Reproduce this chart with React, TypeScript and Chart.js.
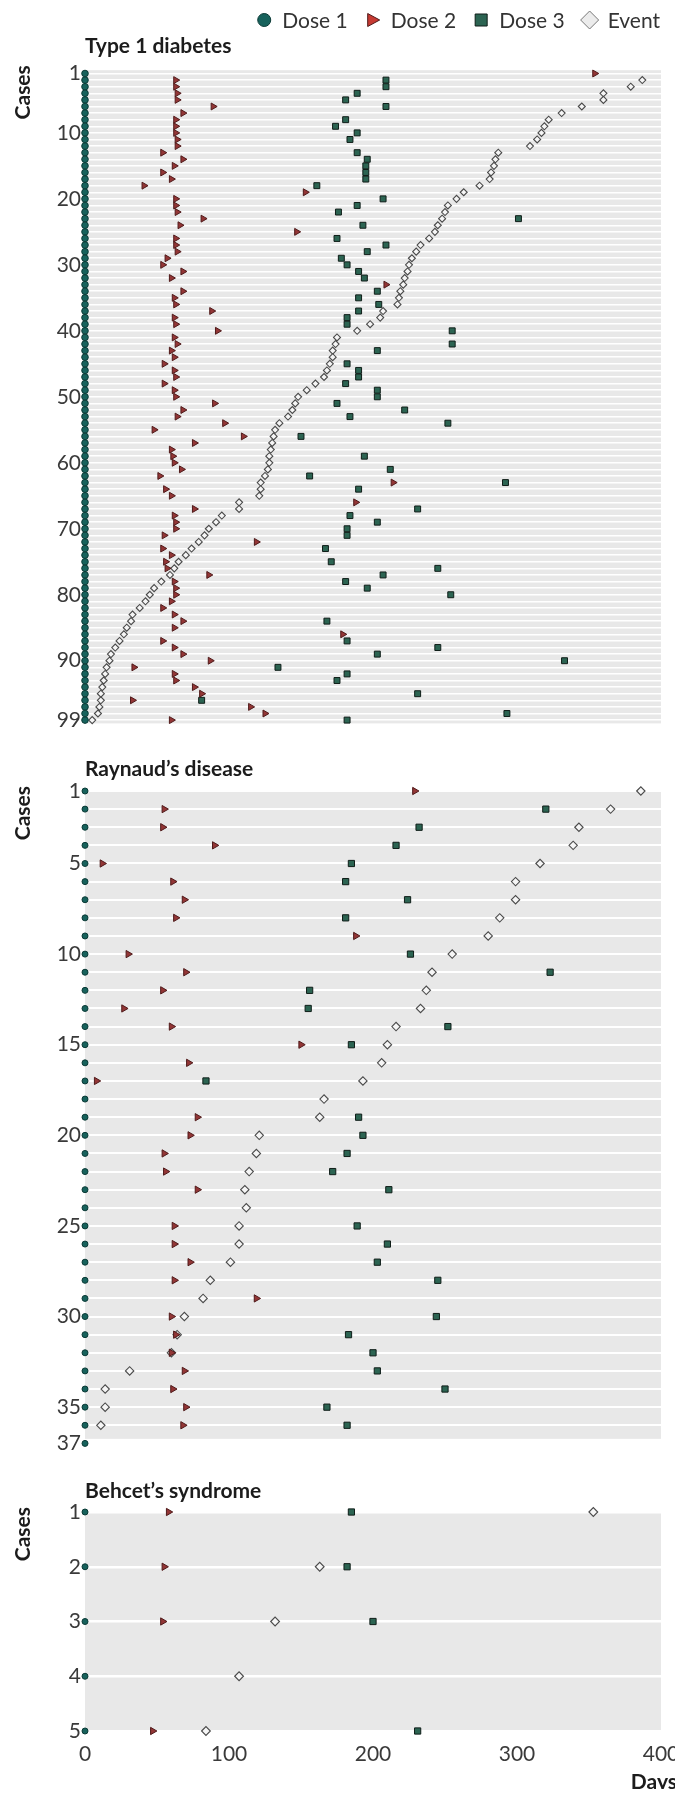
import React, { useEffect, useRef } from 'react';
import { Chart, registerables } from 'chart.js';

Chart.register(...registerables);

const FONT = 'Lato, "Open Sans", "DejaVu Sans", sans-serif';

// ---------------- DATA ----------------
const SERIES_NAMES = ['Dose 1', 'Dose 2', 'Dose 3', 'Event'];
const X_TICKS = [0, 100, 200, 300, 400];
const X_TITLE = 'Days';
const Y_TITLE = 'Cases';

// Type 1 diabetes (99 cases) – days from first dose
const T1D_TITLE = 'Type 1 diabetes';
const T1D_TICKS = [1, 10, 20, 30, 40, 50, 60, 70, 80, 90, 99];
const T1D_DOSE1 = [
  0, 0, 0, 0, 0, 0, 0, 0, 0, 0, 0, 0, 0, 0, 0, 0, 0, 0, 0, 0,
  0, 0, 0, 0, 0, 0, 0, 0, 0, 0, 0, 0, 0, 0, 0, 0, 0, 0, 0, 0,
  0, 0, 0, 0, 0, 0, 0, 0, 0, 0, 0, 0, 0, 0, 0, 0, 0, 0, 0, 0,
  0, 0, 0, 0, 0, 0, 0, 0, 0, 0, 0, 0, 0, 0, 0, 0, 0, 0, 0, 0,
  0, 0, 0, 0, 0, 0, 0, 0, 0, 0, 0, 0, 0, 0, 0, 0, 0, 0, 0,
];
const T1D_DOSE2 = [
  354, 63, 63, 64, 64, 89, 68, 63, 63, 63,
  64, 64, 54, 68, 62, 54, 60, 41, 153, 63,
  63, 64, 82, 66, 147, 63, 63, 64, 57, 54,
  68, 60, 209, 68, 62, 63, 88, 62, 63, 92,
  62, 64, 60, 62, 55, 62, 63, 55, 62, 63,
  90, 68, 64, 97, 48, 110, 76, 60, 61, 62,
  67, 52, 214, 56, 60, 188, 76, 62, 63, 63,
  55, 119, 54, 60, 56, 57, 86, 62, 63, 63,
  60, 54, 62, 68, 62, 179, 54, 62, 68, 87,
  34, 62, 63, 76, 81, 33, 115, 125, 60,
];
const T1D_DOSE3 = [
  null, 209, 209, 189, 181, 209, null, 181, 174, 189,
  184, null, 189, 196, 195, 195, 195, 161, null, 207,
  189, 176, 301, 193, null, 175, 209, 196, 178, 182,
  190, 194, null, 203, 190, 204, 190, 182, 182, 255,
  null, 255, 203, null, 182, 190, 190, 181, 203, 203,
  175, 222, 184, 252, null, 150, null, null, 194, null,
  212, 156, 292, 190, null, null, 231, 184, 203, 182,
  182, null, 167, null, 171, 245, 207, 181, 196, 254,
  null, null, null, 168, null, null, 182, 245, 203, 333,
  134, 182, 175, null, 231, 81, null, 293, 182,
];
const T1D_EVENT = [
  null, 387, 379, 360, 360, 345, 331, 322, 319, 317,
  314, 309, 287, 285, 284, 282, 281, 274, 263, 258,
  252, 250, 248, 245, 243, 239, 233, 230, 227, 225,
  224, 222, 221, 219, 218, 217, 207, 205, 198, 189,
  175, 174, 172, 172, 170, 168, 166, 160, 154, 148,
  146, 144, 141, 135, 132, 131, 130, 129, 128, 128,
  127, 125, 122, 122, 121, 107, 107, 95, 91, 86,
  83, 79, 74, 70, 65, 62, 59, 53, 48, 45,
  42, 38, 33, 32, 29, 27, 24, 21, 18, 17,
  15, 14, 13, 12, 11, 11, 10, 9, 5,
];

// Raynaud's disease (37 cases)
const RAY_TITLE = "Raynaud’s disease";
const RAY_TICKS = [1, 5, 10, 15, 20, 25, 30, 35, 37];
const RAY_DOSE1 = [
  0, 0, 0, 0, 0, 0, 0, 0, 0, 0, 0, 0, 0, 0, 0, 0, 0, 0, 0, 0,
  0, 0, 0, 0, 0, 0, 0, 0, 0, 0, 0, 0, 0, 0, 0, 0, 0,
];
const RAY_DOSE2 = [
  229, 55, 54, 90, 12, 61, 69, 63, 188, 30,
  70, 54, 27, 60, 150, 72, 8, null, 78, 73,
  55, 56, 78, null, 62, 62, 73, 62, 119, 60,
  63, 60, 69, 61, 70, 68, null,
];
const RAY_DOSE3 = [
  null, 320, 232, 216, 185, 181, 224, 181, null, 226,
  323, 156, 155, 252, 185, null, 84, null, 190, 193,
  182, 172, 211, null, 189, 210, 203, 245, null, 244,
  183, 200, 203, 250, 168, 182, null,
];
const RAY_EVENT = [
  386, 365, 343, 339, 316, 299, 299, 288, 280, 255,
  241, 237, 233, 216, 210, 206, 193, 166, 163, 121,
  119, 114, 111, 112, 107, 107, 101, 87, 82, 69,
  64, 60, 31, 14, 14, 11, null,
];

// Behcet's syndrome (5 cases)
const BEH_TITLE = "Behcet’s syndrome";
const BEH_TICKS = [1, 2, 3, 4, 5];
const BEH_DOSE1 = [0, 0, 0, 0, 0];
const BEH_DOSE2 = [58, 55, 54, null, 47];
const BEH_DOSE3 = [185, 182, 200, null, 231];
const BEH_EVENT = [353, 163, 132, 107, 84];

// ---------------- STYLES ----------------
type MarkStyle = { pointStyle: string; bg: string; border: string; rot: number };
const MARKS: MarkStyle[] = [
  { pointStyle: 'circle', bg: '#17625c', border: '#0b3a36', rot: 0 },
  { pointStyle: 'triangle', bg: '#933636', border: '#4f1a1a', rot: 90 },
  { pointStyle: 'rect', bg: '#2c6452', border: '#0f1d18', rot: 0 },
  { pointStyle: 'rectRot', bg: '#f6f6f6', border: '#4a4a4a', rot: 0 },
];

const PANEL_BG = '#e8e8e8';
const TICK_COLOR = '#3a3a3a';
const LABEL_COLOR = '#1c1c1c';
const CHART_LEFT = 85;
const CHART_RIGHT_PAD = 22;

type Panel = {
  id: string;
  top: number;
  height: number;
  title: string;
  padTop: number;
  padBottom: number;
  titlePadBottom: number;
  yMin: number;
  yMax: number;
  ticks: number[];
  bgFrom: number;
  bgTo: number;
  gridWidth: number;
  radii: number[];
  series: (number | null)[][];
  showX: boolean;
  legend: boolean;
};

const PANELS: Panel[] = [
  {
    id: 't1d', top: 0, height: 740, title: T1D_TITLE, padTop: 34, padBottom: 14, titlePadBottom: 11,
    yMin: 0.5, yMax: 99.5, ticks: T1D_TICKS, bgFrom: 0.5, bgTo: 99.5, gridWidth: 1.5,
    radii: [3.3, 4, 4.2, 3.5], series: [T1D_DOSE1, T1D_DOSE2, T1D_DOSE3, T1D_EVENT], showX: false, legend: true,
  },
  {
    id: 'ray', top: 745, height: 715, title: RAY_TITLE, padTop: 12, padBottom: 15, titlePadBottom: 8.8,
    yMin: 1, yMax: 37, ticks: RAY_TICKS, bgFrom: 1, bgTo: 36.75, gridWidth: 2,
    radii: [3, 4.2, 4.4, 4.2], series: [RAY_DOSE1, RAY_DOSE2, RAY_DOSE3, RAY_EVENT], showX: false, legend: false,
  },
  {
    id: 'beh', top: 1460, height: 337, title: BEH_TITLE, padTop: 19, padBottom: 0, titlePadBottom: 7.8,
    yMin: 1, yMax: 5, ticks: BEH_TICKS, bgFrom: 1, bgTo: 5, gridWidth: 2.5,
    radii: [3, 4.2, 4.4, 4.4], series: [BEH_DOSE1, BEH_DOSE2, BEH_DOSE3, BEH_EVENT], showX: true, legend: false,
  },
];

function toPoints(values: (number | null)[]) {
  const out: { x: number; y: number }[] = [];
  values.forEach((v, i) => {
    if (v !== null && v !== undefined) out.push({ x: v, y: i + 1 });
  });
  return out;
}

function drawLegendMarker(ctx: CanvasRenderingContext2D, idx: number, x: number, y: number) {
  const m = MARKS[idx];
  ctx.save();
  ctx.fillStyle = m.bg;
  ctx.strokeStyle = m.border;
  ctx.lineWidth = 1;
  ctx.beginPath();
  if (idx === 0) {
    ctx.arc(x, y, 6.5, 0, Math.PI * 2);
  } else if (idx === 1) {
    ctx.moveTo(x - 5, y - 6.5);
    ctx.lineTo(x + 7, y);
    ctx.lineTo(x - 5, y + 6.5);
    ctx.closePath();
    ctx.fillStyle = '#c63a32';
  } else if (idx === 2) {
    ctx.rect(x - 6, y - 6, 12, 12);
  } else {
    ctx.moveTo(x, y - 9);
    ctx.lineTo(x + 9, y);
    ctx.lineTo(x, y + 9);
    ctx.lineTo(x - 9, y);
    ctx.closePath();
    ctx.fillStyle = '#ececec';
    ctx.strokeStyle = '#777';
  }
  ctx.fill();
  ctx.stroke();
  ctx.restore();
}

function makeDecorPlugin(cfg: Panel) {
  return {
    id: 'panelDecor_' + cfg.id,
    beforeDraw(chart: any) {
      const { ctx, chartArea } = chart;
      const ys = chart.scales.y;
      const y1 = ys.getPixelForValue(cfg.bgFrom);
      const y2 = ys.getPixelForValue(cfg.bgTo);
      ctx.save();
      ctx.fillStyle = PANEL_BG;
      ctx.fillRect(chartArea.left, Math.min(y1, y2), chartArea.right - chartArea.left, Math.abs(y2 - y1));
      ctx.restore();
    },
    afterDraw(chart: any) {
      const { ctx, chartArea } = chart;
      ctx.save();
      // y-axis title, rotated, near the top of the panel
      ctx.font = `bold 21px ${FONT}`;
      ctx.fillStyle = LABEL_COLOR;
      ctx.translate(23, chartArea.top - 5);
      ctx.rotate(-Math.PI / 2);
      ctx.textAlign = 'right';
      ctx.textBaseline = 'middle';
      ctx.fillText(Y_TITLE, 0, 0);
      ctx.restore();

      if (cfg.showX) {
        ctx.save();
        ctx.font = `bold 21px ${FONT}`;
        ctx.fillStyle = LABEL_COLOR;
        ctx.textAlign = 'right';
        ctx.textBaseline = 'middle';
        ctx.fillText(X_TITLE, 677, chartArea.bottom + 51);
        ctx.restore();
      }

      if (cfg.legend) {
        const names = chart.data.datasets.map((d: any) => d.label);
        ctx.save();
        ctx.font = `normal 21px ${FONT}`;
        const widths = names.map((n: string) => ctx.measureText(n).width);
        const gapText = 18;
        const gapNext = 25;
        const total = 6.5 + widths.reduce((a: number, b: number) => a + b, 0) + names.length * gapText + (names.length - 1) * gapNext;
        let x = 660 - total + 6.5;
        const y = 20;
        names.forEach((n: string, i: number) => {
          drawLegendMarker(ctx, i, x, y);
          ctx.fillStyle = '#333';
          ctx.textAlign = 'left';
          ctx.textBaseline = 'middle';
          ctx.fillText(n, x + gapText, y + 1);
          x += gapText + widths[i] + gapNext;
        });
        ctx.restore();
      }
    },
  };
}

function buildConfig(cfg: Panel): any {
  const n = cfg.series[0].length;
  const caseNums: number[] = [];
  for (let i = 1; i <= n; i++) caseNums.push(i);

  const datasets = SERIES_NAMES.map((name, i) => ({
    type: 'scatter',
    label: name,
    data: toPoints(cfg.series[i]),
    pointStyle: MARKS[i].pointStyle,
    pointRadius: cfg.radii[i],
    pointHoverRadius: cfg.radii[i],
    pointBackgroundColor: MARKS[i].bg,
    pointBorderColor: MARKS[i].border,
    pointBorderWidth: i === 3 ? 1.1 : 1,
    pointRotation: MARKS[i].rot,
    showLine: false,
    clip: false,
  }));

  return {
    type: 'scatter',
    data: { datasets },
    plugins: [makeDecorPlugin(cfg)],
    options: {
      animation: false,
      responsive: false,
      devicePixelRatio: 1,
      events: [],
      layout: { padding: { top: cfg.padTop, right: CHART_RIGHT_PAD, bottom: cfg.padBottom, left: 0 } },
      plugins: {
        legend: { display: false },
        tooltip: { enabled: false },
        title: {
          display: true,
          text: cfg.title,
          align: 'start',
          fullSize: false,
          color: LABEL_COLOR,
          font: { family: FONT, size: 21, weight: 'bold', lineHeight: 1.2 },
          padding: { top: 0, bottom: cfg.titlePadBottom },
        },
      },
      scales: {
        x: {
          type: 'linear',
          min: 0,
          max: 400,
          display: cfg.showX,
          afterBuildTicks: (s: any) => { s.ticks = X_TICKS.map((v) => ({ value: v })); },
          afterFit: (s: any) => { if (cfg.showX) s.height = 66; },
          ticks: { padding: 3, color: TICK_COLOR, maxRotation: 0, font: { family: FONT, size: 21 } },
          grid: { display: false },
          border: { display: false },
        },
        y: {
          type: 'linear',
          reverse: true,
          min: cfg.yMin,
          max: cfg.yMax,
          afterBuildTicks: (s: any) => { s.ticks = caseNums.map((v) => ({ value: v })); },
          afterFit: (s: any) => { s.width = CHART_LEFT; },
          ticks: {
            autoSkip: false,
            padding: 4,
            color: TICK_COLOR,
            font: { family: FONT, size: 21 },
            callback: (v: any) => (cfg.ticks.includes(v) ? String(v) : ''),
          },
          grid: { color: '#ffffff', lineWidth: cfg.gridWidth, drawTicks: false },
          border: { display: false },
        },
      },
    },
  };
}

function PanelChart({ cfg }: { cfg: Panel }) {
  const ref = useRef<HTMLCanvasElement>(null);
  useEffect(() => {
    if (!ref.current) return;
    const chart = new Chart(ref.current, buildConfig(cfg));
    return () => chart.destroy();
  }, [cfg]);
  return (
    <canvas
      ref={ref}
      width={683}
      height={cfg.height}
      style={{ position: 'absolute', left: 0, top: cfg.top, width: 683, height: cfg.height }}
    />
  );
}

export default function App() {
  return (
    <div style={{ position: 'relative', width: 683, height: 1797, margin: -8, background: '#ffffff', overflow: 'hidden' }}>
      {PANELS.map((p) => (
        <PanelChart key={p.id} cfg={p} />
      ))}
    </div>
  );
}
